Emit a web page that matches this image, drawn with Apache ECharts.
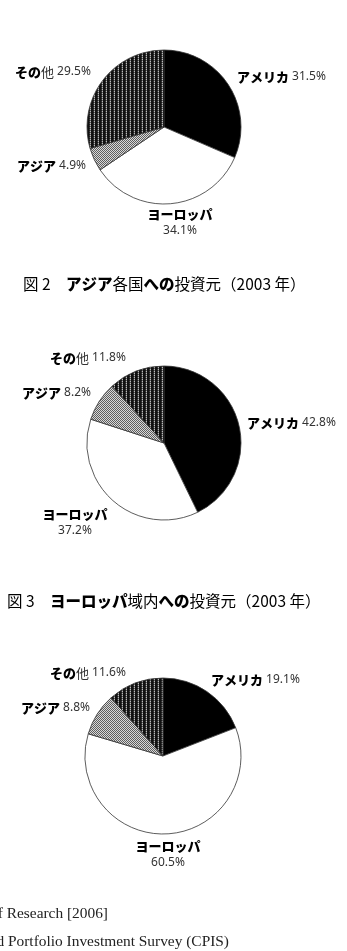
<!DOCTYPE html>
<html><head><meta charset="utf-8">
<script src="https://cdn.jsdelivr.net/npm/echarts@6/dist/echarts.min.js"></script>
<style>html,body{margin:0;padding:0;background:#fff}#c{width:347px;height:951px}</style>
</head><body><div id="c"></div>
<script>
// ---- data ----
const categories = ['アメリカ', 'ヨーロッパ', 'アジア', 'その他'];
const chart1Values = [31.5, 34.1, 4.9, 29.5];   // (図1, top)
const chart2Values = [42.8, 37.2, 8.2, 11.8];   // 図2 アジア各国への投資元
const chart3Values = [19.1, 60.5, 8.8, 11.6];   // 図3 ヨーロッパ域内への投資元
const title2Text = '図 2　アジア各国への投資元（2003 年）';
const title3Text = '図 3　ヨーロッパ域内への投資元（2003 年）';
const sourceLines = ['Institute of Research [2006]', 'IMF, Coordinated Portfolio Investment Survey (CPIS)'];

// ---- patterns ----
function makePattern(w, h, fn) {
  const c = document.createElement('canvas'); c.width = w; c.height = h;
  const g = c.getContext('2d');
  for (let y = 0; y < h; y++) for (let x = 0; x < w; x++) { g.fillStyle = fn(x, y); g.fillRect(x, y, 1, 1); }
  return { image: c, repeat: 'repeat' };
}
const otherPattern = makePattern(4, 2, (x, y) => {
  if (x === 0 || x === 3) return '#111';
  if (x === 1) return y ? '#3a3a3a' : '#1a1a1a';
  return y ? '#bbb' : '#5a5a5a';
});
const asiaPattern = makePattern(2, 2, (x, y) => ((x + y) % 2 ? '#d8d8d8' : '#5e5e5e'));
const sliceColors = ['#000000', '#ffffff', asiaPattern, otherPattern];

// ---- layout ----
const pies = [
  { values: chart1Values, center: [164, 127], r: 77,
    labels: [[237, 77, 'left'], [180, 206, 'center'], [17, 166, 'left'], [15, 72, 'left']] },
  { values: chart2Values, center: [164, 443], r: 77,
    labels: [[247, 423, 'left'], [75, 506, 'center'], [22, 393, 'left'], [50, 358, 'left']] },
  { values: chart3Values, center: [163, 756], r: 78,
    labels: [[211, 680, 'left'], [168, 838, 'center'], [21, 708, 'left'], [50, 673, 'left']] }
];

// kana in heavy weight, kanji/other in regular weight
function richSplit(text, boldKey, regKey) {
  let out = '', cur = '', curKey = null;
  for (const ch of text) {
    const k = /[\u3040-\u30ff]/.test(ch) ? boldKey : regKey;
    if (k !== curKey && cur) { out += '{' + curKey + '|' + cur + '}'; cur = ''; }
    curKey = k; cur += ch;
  }
  if (cur) out += '{' + curKey + '|' + cur + '}';
  return out;
}

const rich = {
  n: { fontFamily: '"Noto Sans CJK JP"', fontWeight: 900, fontSize: 13, color: '#000' },
  r: { fontFamily: '"Noto Sans CJK JP"', fontSize: 13, color: '#333' },
  v: { fontFamily: '"Noto Sans", sans-serif', fontSize: 12, color: '#333' },
  n2: { fontFamily: '"Noto Sans CJK JP"', fontWeight: 900, fontSize: 13, color: '#000', lineHeight: 17, align: 'center' },
  v2: { fontFamily: '"Noto Sans", sans-serif', fontSize: 12, color: '#333', lineHeight: 16, align: 'center' }
};

const series = pies.map((p) => ({
  type: 'pie',
  center: p.center,
  radius: p.r,
  startAngle: 90,
  clockwise: true,
  animation: false,
  silent: true,
  avoidLabelOverlap: false,
  itemStyle: { borderColor: '#333', borderWidth: 0.8 },
  labelLine: { show: false },
  label: {
    show: true,
    position: 'outside',
    formatter: (d) => d.dataIndex === 1
      ? '{n2|' + d.name + '}\n{v2|' + d.value + '%}'
      : richSplit(d.name, 'n', 'r') + '{v| ' + d.value + '%}',
    rich: rich
  },
  labelLayout: (params) => {
    const L = p.labels[params.dataIndex];
    return { x: L[0], y: L[1], align: L[2], verticalAlign: params.dataIndex === 1 ? 'top' : 'middle' };
  },
  data: categories.map((name, i) => ({ name, value: p.values[i], itemStyle: { color: sliceColors[i] } }))
}));

const titleRich = {
  a: { fontFamily: '"Noto Sans CJK JP"', fontSize: 15.5, color: '#444' },
  b: { fontFamily: '"Noto Sans CJK JP"', fontWeight: 900, fontSize: 15.5, color: '#000' }
};

const chart = echarts.init(document.getElementById('c'), null, { renderer: 'canvas' });
chart.setOption({
  backgroundColor: '#fff',
  animation: false,
  series: series,
  graphic: [
    { type: 'text', left: 23, top: 276, style: { text: richSplit(title2Text, 'b', 'a'), rich: titleRich } },
    { type: 'text', left: 7, top: 593, style: { text: richSplit(title3Text, 'b', 'a'), rich: titleRich } },
    { type: 'text', x: 108, y: 914, style: { text: sourceLines[0], font: '15.4px "Liberation Serif"', fill: '#222', align: 'right', verticalAlign: 'middle' } },
    { type: 'text', x: 229, y: 942, style: { text: sourceLines[1], font: '15.4px "Liberation Serif"', fill: '#222', align: 'right', verticalAlign: 'middle' } }
  ]
});
</script></body></html>
